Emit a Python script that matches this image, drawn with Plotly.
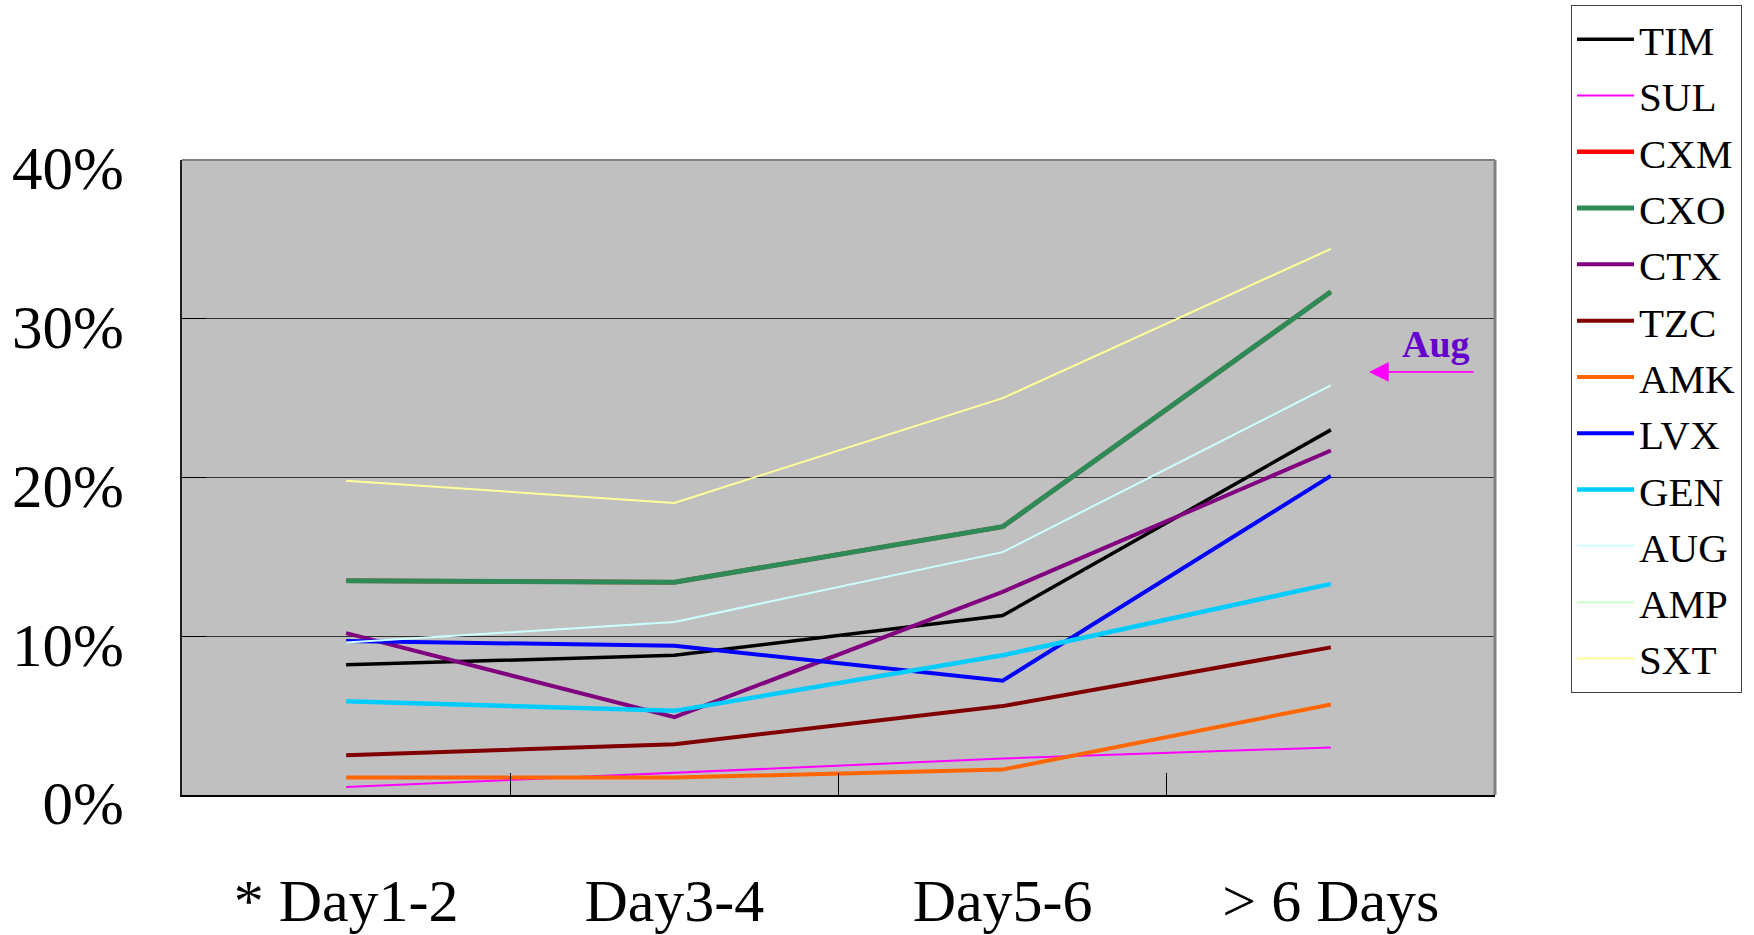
import plotly.graph_objects as go

categories = ["* Day1-2", "Day3-4", "Day5-6", "> 6 Days"]

series_names = ["TIM", "SUL", "CXM", "CXO", "CTX", "TZC", "AMK", "LVX", "GEN", "AUG", "AMP", "SXT"]

TIM = [8.2, 8.8, 11.3, 23.0]
SUL = [0.5, 1.4, 2.3, 3.0]
CXM = [13.5, 13.4, 16.9, 31.7]
CXO = [13.5, 13.4, 16.9, 31.7]
CTX = [10.2, 4.9, 12.8, 21.7]
TZC = [2.5, 3.2, 5.6, 9.3]
AMK = [1.1, 1.1, 1.6, 5.7]
LVX = [9.7, 9.4, 7.2, 20.1]
GEN = [5.9, 5.3, 8.8, 13.3]
AUG = [9.6, 10.9, 15.3, 25.8]
AMP = [None, None, None, None]
SXT = [19.8, 18.4, 25.0, 34.4]

values = [TIM, SUL, CXM, CXO, CTX, TZC, AMK, LVX, GEN, AUG, AMP, SXT]
colors = ["#000000", "#FF00FF", "#FF0000", "#2E8B57", "#800080", "#800000",
          "#FF6600", "#0000FF", "#00CCFF", "#CCFFFF", "#CCFFCC", "#FFFF99"]
widths = [3.5, 2, 4.5, 5, 4, 4, 4, 4, 4.5, 2, 2, 2]

y_ticks = [0, 10, 20, 30, 40]

FONT = "Liberation Serif, Times New Roman, serif"

fig = go.Figure()
for name, vals, col, w in zip(series_names, values, colors, widths):
    fig.add_trace(go.Scatter(
        x=categories, y=vals, mode="lines", name=name,
        line=dict(color=col, width=w), showlegend=True,
    ))

# Aug annotation
fig.add_annotation(x=3.32, y=28.4, xref="x", yref="y", text="<b>Aug</b>",
                   showarrow=False, font=dict(family=FONT, size=38, color="#6600CC"))
fig.add_annotation(x=3.116, y=26.65, xref="x", yref="y", ax=3.439, ay=26.65,
                   axref="x", ayref="y", text="", showarrow=True,
                   arrowhead=2, arrowsize=2.2, arrowwidth=1.8, arrowcolor="#FF00FF",
                   standoff=0, startstandoff=0)

# top and right borders of plot area (gray)
fig.add_shape(type="line", xref="paper", yref="paper", x0=0, x1=1, y0=1, y1=1,
              line=dict(color="#808080", width=2))
fig.add_shape(type="line", xref="paper", yref="paper", x0=1, x1=1, y0=0, y1=1,
              line=dict(color="#808080", width=3))

L, R, T, B = 182, 259, 160, 140
plot_w = 1754 - L - R
plot_h = 935 - T - B

fig.update_layout(
    width=1754, height=935,
    margin=dict(l=L, r=R, t=T, b=B, autoexpand=False),
    paper_bgcolor="white", plot_bgcolor="#C0C0C0",
    font=dict(family=FONT, color="black"),
    legend=dict(
        x=(1571 - L) / plot_w, xanchor="left",
        y=(935 - B - 5) / plot_h, yanchor="top",
        bgcolor="white", bordercolor="#404040", borderwidth=1,
        font=dict(family=FONT, size=41, color="black"),
        itemwidth=57, tracegroupgap=0, maxheight=930,
    ),
)

fig.update_xaxes(
    type="category", range=[-0.5, 3.5], automargin=False,
    showgrid=False, showline=True, linecolor="black", linewidth=2,
    ticks="inside", tickson="boundaries", ticklen=22, tickcolor="black", tickwidth=1,
    tickfont=dict(family=FONT, size=60, color="black"),
    ticklabelstandoff=52,
)
fig.update_yaxes(
    range=[0, 40], tickvals=y_ticks, ticktext=[f"{v}%" for v in y_ticks],
    automargin=False,
    showgrid=True, gridcolor="#303030", gridwidth=1,
    showline=True, linecolor="#202020", linewidth=2,
    ticks="inside", ticklen=24, tickcolor="black", tickwidth=1,
    tickfont=dict(family=FONT, size=61, color="black"),
    ticklabelstandoff=44, ticklabelshift=8, zeroline=False,
)

fig.write_html("out.html", config={"displayModeBar": False},
               post_script="document.body.style.margin='0';document.body.style.overflow='hidden';")
